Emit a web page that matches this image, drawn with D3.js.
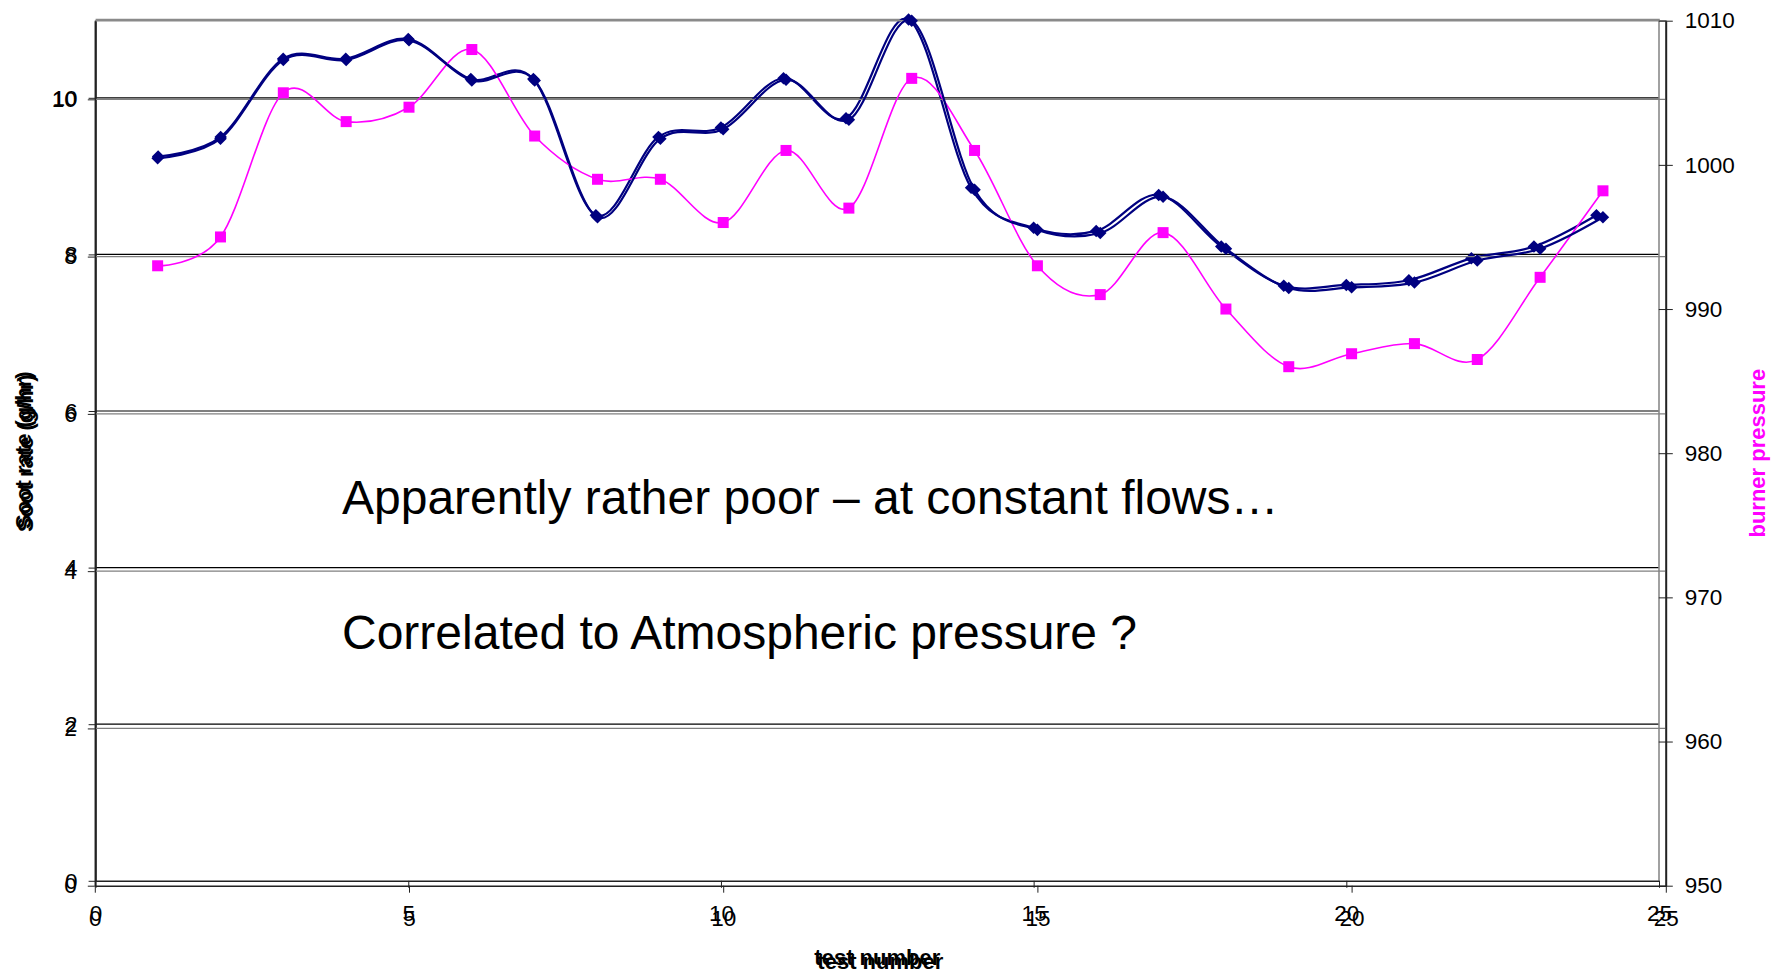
<!DOCTYPE html>
<html>
<head>
<meta charset="utf-8">
<script src="https://cdn.jsdelivr.net/npm/d3@7"></script>
<style>
  html, body { margin: 0; padding: 0; background: #fff; }
  svg { display: block; font-family: "Liberation Sans", Arial, sans-serif; }
</style>
</head>
<body>
<div id="chart"></div>
<script>
// data
const testNumber = [1, 2, 3, 4, 5, 6, 7, 8, 9, 10, 11, 12, 13, 14, 15, 16, 17, 18, 19, 20, 21, 22, 23, 24];
const sootRate = [9.25, 9.5, 10.5, 10.5, 10.75, 10.24, 10.24, 8.5, 9.5, 9.62, 10.25, 9.74, 11.0, 8.85, 8.34, 8.3, 8.76, 8.1, 7.6, 7.61, 7.67, 7.95, 8.1, 8.5];
const burnerPressure = [993, 995, 1005, 1003, 1004, 1008, 1002, 999, 999, 996, 1001, 997, 1006, 1001, 993, 991, 995.3, 990, 986, 986.9, 987.6, 986.5, 992.2, 998.2];
const xTicks = [0, 5, 10, 15, 20, 25];
const yTicks = [0, 2, 4, 6, 8, 10];
const y2Ticks = [950, 960, 970, 980, 990, 1000, 1010];
const notes = ["Apparently rather poor \u2013 at constant flows\u2026", "Correlated to Atmospheric pressure ?"];

const W = 1778, H = 974;
const navy = "#000080", magenta = "#ff00ff";

const svg = d3.select("#chart").append("svg")
  .attr("width", W)
  .attr("height", H);

// the picture is two Excel charts laid over each other, slightly offset
const charts = [
  { left: 95.6, right: 1659, top: 19.5, bottom: 880.8, grid: "#000", second: false, titleY: 964.5, titleX: 31 },
  { left: 94.8, right: 1665.8, top: 20.7, bottom: 885.7, grid: "#808080", second: true, titleY: 968.5, titleX: 33 }
];

const line = (x, y) => d3.line().x(d => x(d[0])).y(d => y(d[1])).curve(d3.curveCatmullRom.alpha(0));

charts.forEach(c => {
  const g = svg.append("g");
  const x = d3.scaleLinear().domain([0, 25]).range([c.left, c.right]);
  const y = d3.scaleLinear().domain([0, 11]).range([c.bottom, c.top]);

  // gridlines
  g.selectAll(".grid")
    .data(yTicks.filter(t => t > 0))
    .enter().append("line")
    .attr("x1", c.left).attr("x2", c.right)
    .attr("y1", d => y(d)).attr("y2", d => y(d))
    .attr("stroke", c.grid).attr("stroke-width", 1.2);

  // plot area border (top / right)
  g.append("path")
    .attr("d", `M${c.left},${c.top}H${c.right}V${c.bottom}`)
    .attr("fill", "none").attr("stroke", "#8a8a8a").attr("stroke-width", 1.6);

  // axes
  const xa = g.append("g").attr("transform", `translate(0,${c.bottom})`)
    .call(d3.axisBottom(x).tickValues(xTicks).tickSize(7).tickSizeOuter(0).tickPadding(17));
  const ya = g.append("g").attr("transform", `translate(${c.left},0)`)
    .call(d3.axisLeft(y).tickValues(yTicks).tickSize(7).tickSizeOuter(0).tickPadding(11));
  [xa, ya].forEach(a => {
    a.select(".domain").attr("stroke", "#222").attr("stroke-width", 1.5);
    a.selectAll(".tick line").attr("stroke", "#222");
    a.selectAll("text").attr("font-size", 22.5).attr("fill", "#000")
      .attr("font-family", '"Liberation Sans", Arial, sans-serif');
  });

  // axis titles
  g.append("text")
    .attr("x", (c.left + c.right) / 2)
    .attr("y", c.titleY)
    .attr("text-anchor", "middle")
    .attr("font-size", 22).attr("font-weight", "bold")
    .text("test number");
  g.append("text")
    .attr("transform", `translate(${c.titleX},${(c.top + c.bottom) / 2}) rotate(-90)`)
    .attr("text-anchor", "middle")
    .attr("font-size", 22).attr("font-weight", "bold")
    .text("Soot rate (g/hr)");

  const pts = testNumber.map((t, i) => [t, sootRate[i]]);

  if (c.second) {
    const y2 = d3.scaleLinear().domain([950, 1010]).range([c.bottom, c.top]);
    const ra = g.append("g").attr("transform", `translate(${c.right},0)`)
      .call(d3.axisRight(y2).tickValues(y2Ticks).tickFormat(d3.format("d"))
        .tickSize(7).tickSizeOuter(0).tickPadding(12));
    ra.select(".domain").attr("stroke", "#222").attr("stroke-width", 1.8);
    ra.selectAll(".tick line").attr("stroke", "#222").attr("x1", -7);
    ra.selectAll("text").attr("font-size", 22.5).attr("fill", "#000")
      .attr("font-family", '"Liberation Sans", Arial, sans-serif');

    g.append("text")
      .attr("transform", `translate(1765,${(c.top + c.bottom) / 2}) rotate(-90)`)
      .attr("text-anchor", "middle")
      .attr("font-size", 22).attr("font-weight", "bold")
      .attr("fill", magenta)
      .text("burner pressure");

    const pp = testNumber.map((t, i) => [t, burnerPressure[i]]);
    g.append("path")
      .attr("d", line(x, y2)(pp))
      .attr("fill", "none").attr("stroke", magenta).attr("stroke-width", 1.6);
    g.selectAll(".sq")
      .data(pp)
      .enter().append("rect")
      .attr("x", d => x(d[0]) - 5.5).attr("y", d => y2(d[1]) - 5.5)
      .attr("width", 11).attr("height", 11)
      .attr("fill", magenta);
  }

  g.append("path")
    .attr("d", line(x, y)(pts))
    .attr("fill", "none").attr("stroke", navy).attr("stroke-width", 2.2);
  g.selectAll(".dia")
    .data(pts)
    .enter().append("path")
    .attr("d", d3.symbol().type(d3.symbolDiamond2).size(100))
    .attr("transform", d => `translate(${x(d[0])},${y(d[1])})`)
    .attr("fill", navy);
});

// annotations
svg.selectAll(".note")
  .data(notes)
  .enter().append("text")
  .attr("x", 342)
  .attr("y", (d, i) => 514 + i * 135)
  .attr("font-size", 48)
  .attr("fill", "#000")
  .text(d => d);
</script>
</body>
</html>
